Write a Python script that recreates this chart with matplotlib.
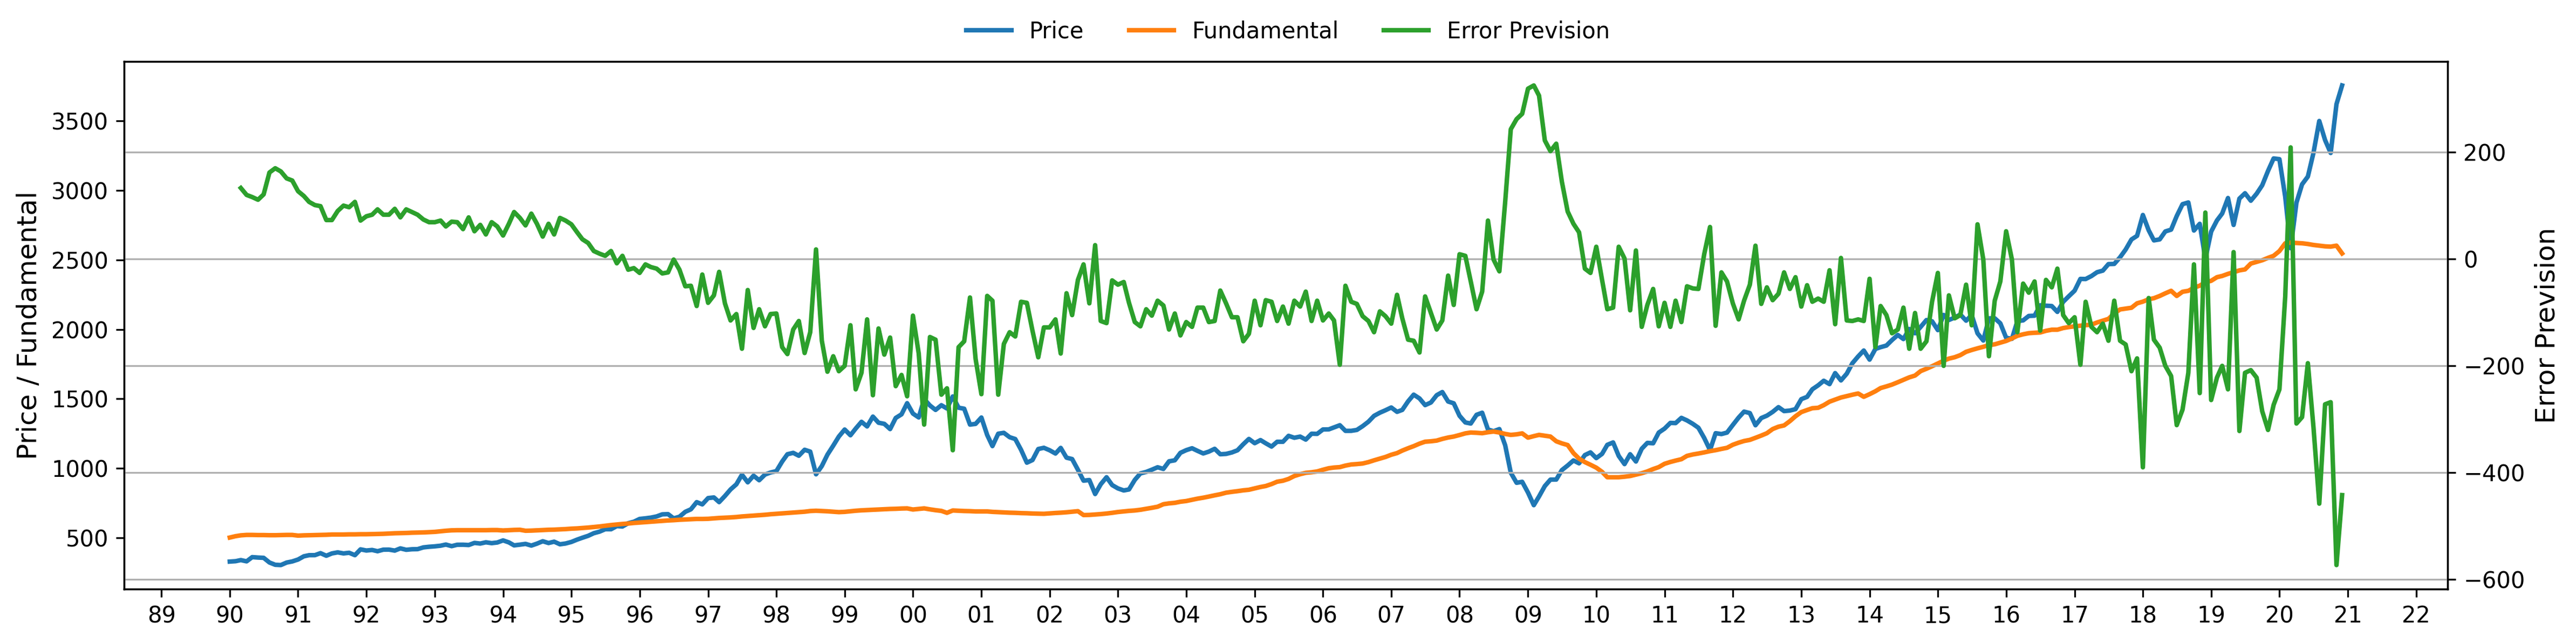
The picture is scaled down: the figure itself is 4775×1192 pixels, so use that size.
import pandas as pd
import matplotlib
matplotlib.use('Agg')
import matplotlib.pyplot as plt
import matplotlib.dates as mdates
from matplotlib.ticker import MultipleLocator

# Monthly values, 1990-01 .. 2020-12 (one row per year)
price = [
    329.08, 331.89, 339.94, 330.80, 361.23, 358.02, 356.15, 322.56, 306.05, 304.00, 322.22, 330.22,
    343.93, 367.07, 375.22, 375.35, 389.83, 371.16, 387.81, 395.43, 387.86, 392.46, 375.22, 417.09,
    408.79, 412.70, 403.69, 414.95, 415.35, 408.14, 424.21, 414.03, 417.80, 418.68, 431.35, 435.71,
    438.78, 443.38, 451.67, 440.19, 450.19, 450.53, 448.13, 463.56, 458.93, 467.83, 461.79, 466.45,
    481.61, 467.14, 445.77, 450.91, 456.50, 444.27, 458.26, 475.49, 462.69, 472.35, 453.69, 459.27,
    470.42, 487.39, 500.71, 514.71, 533.40, 544.75, 562.06, 561.88, 584.41, 581.50, 605.37, 615.93,
    636.02, 640.43, 645.50, 654.17, 669.12, 670.63, 639.95, 651.99, 687.33, 705.27, 757.02, 740.74,
    786.16, 790.82, 757.12, 801.34, 848.28, 885.14, 954.31, 899.47, 947.28, 914.62, 955.40, 970.43,
    980.28, 1049.34, 1101.75, 1111.75, 1090.82, 1133.84, 1120.67, 957.28, 1017.01, 1098.67, 1163.63, 1229.23,
    1279.64, 1238.33, 1286.37, 1335.18, 1301.84, 1372.71, 1328.72, 1320.41, 1282.71, 1362.93, 1388.91, 1469.25,
    1394.46, 1366.42, 1498.58, 1452.43, 1420.60, 1454.60, 1430.83, 1517.68, 1436.51, 1429.40, 1314.95, 1320.28,
    1366.01, 1239.94, 1160.33, 1249.46, 1255.82, 1224.42, 1211.23, 1133.58, 1040.94, 1059.78, 1139.45, 1148.08,
    1130.20, 1106.73, 1147.39, 1076.92, 1067.14, 989.82, 911.62, 916.07, 815.28, 885.76, 936.31, 879.82,
    855.70, 841.15, 848.18, 916.92, 963.59, 974.50, 990.31, 1008.01, 995.97, 1050.71, 1058.20, 1111.92,
    1131.13, 1144.94, 1126.21, 1107.30, 1120.68, 1140.84, 1101.72, 1104.24, 1114.58, 1130.20, 1173.82, 1211.92,
    1181.27, 1203.60, 1180.59, 1156.85, 1191.50, 1191.33, 1234.18, 1220.33, 1228.81, 1207.01, 1249.48, 1248.29,
    1280.08, 1280.66, 1294.87, 1310.61, 1270.09, 1270.20, 1276.66, 1303.82, 1335.85, 1377.94, 1400.63, 1418.30,
    1438.24, 1406.82, 1420.86, 1482.37, 1530.62, 1503.35, 1455.27, 1473.99, 1526.75, 1549.38, 1481.14, 1468.36,
    1378.55, 1330.63, 1322.70, 1385.59, 1400.38, 1280.00, 1267.38, 1282.83, 1166.36, 968.75, 896.24, 903.25,
    825.88, 735.09, 797.87, 872.81, 919.14, 919.32, 987.48, 1020.62, 1057.08, 1036.19, 1095.63, 1115.10,
    1073.87, 1104.49, 1169.43, 1186.69, 1089.41, 1030.71, 1101.60, 1049.33, 1141.20, 1183.26, 1180.55, 1257.64,
    1286.12, 1327.22, 1325.83, 1363.61, 1345.20, 1320.64, 1292.28, 1218.89, 1131.42, 1253.30, 1246.96, 1257.60,
    1312.41, 1365.68, 1408.47, 1397.91, 1310.33, 1362.16, 1379.32, 1406.58, 1440.67, 1412.16, 1416.18, 1426.19,
    1498.11, 1514.68, 1569.19, 1597.57, 1630.74, 1606.28, 1685.73, 1632.97, 1681.55, 1756.54, 1805.81, 1848.36,
    1782.59, 1859.45, 1872.34, 1883.95, 1923.57, 1960.23, 1930.67, 2003.37, 1972.29, 2018.05, 2067.56, 2058.90,
    1994.99, 2104.50, 2067.89, 2085.51, 2107.39, 2063.11, 2103.84, 1972.18, 1920.03, 2079.36, 2080.41, 2043.94,
    1940.24, 1932.23, 2059.74, 2065.30, 2096.95, 2098.86, 2173.60, 2170.95, 2168.27, 2126.15, 2198.81, 2238.83,
    2278.87, 2363.64, 2362.72, 2384.20, 2411.80, 2423.41, 2470.30, 2471.65, 2519.36, 2575.26, 2647.58, 2673.61,
    2823.81, 2713.83, 2640.87, 2648.05, 2705.27, 2718.37, 2816.29, 2901.52, 2913.98, 2711.74, 2760.17, 2506.85,
    2704.10, 2784.49, 2834.40, 2945.83, 2752.06, 2941.76, 2980.38, 2926.46, 2976.74, 3037.56, 3140.98, 3230.78,
    3225.52, 2954.22, 2584.59, 2912.43, 3044.31, 3100.29, 3271.12, 3500.31, 3363.00, 3269.96, 3621.63, 3756.07,
]

fundamental = [
    502, 512, 518, 521, 521, 520, 520, 519, 519, 520, 521, 521,
    516, 518, 519, 520, 521, 522, 524, 524, 524, 525, 525, 526,
    526, 527, 528, 529, 531, 533, 534, 535, 537, 538, 539, 541,
    543, 547, 551, 554, 555, 555, 555, 555, 555, 555, 556, 556,
    553, 555, 557, 558, 551, 552, 554, 556, 558, 559, 561, 563,
    566, 568, 571, 574, 578, 582, 587, 592, 596, 600, 603, 607,
    610, 613, 616, 619, 622, 625, 627, 630, 632, 634, 636, 636,
    637, 640, 643, 645, 647, 650, 654, 657, 660, 663, 666, 670,
    673, 676, 679, 682, 685, 688, 693, 695, 693, 691, 688, 685,
    687, 691, 695, 698, 700, 702, 704, 706, 708, 709, 711, 712,
    704, 708, 712, 705, 699, 694, 680, 697, 695, 693, 692, 690,
    690, 690, 687, 685, 683, 681, 680, 678, 677, 675, 674, 673,
    676, 679, 681, 684, 688, 692, 664, 665, 668, 671, 675, 680,
    686, 690, 694, 697, 702, 709, 716, 724, 742, 748, 752, 760,
    765, 774, 782, 789, 797, 806, 814, 825, 831, 836, 842, 846,
    856, 866, 873, 887, 904, 911, 924, 945, 958, 968, 972, 978,
    990, 1001, 1006, 1009, 1020, 1028, 1031, 1035, 1045, 1058, 1070, 1082,
    1098, 1110, 1128, 1145, 1160, 1178, 1192, 1195, 1200, 1212, 1222, 1229,
    1240, 1252, 1258, 1256, 1253, 1260, 1265, 1258, 1248, 1241, 1245, 1252,
    1221, 1232, 1241, 1235, 1229, 1195, 1180, 1168, 1110, 1070, 1045, 1026,
    1005, 975, 936, 936, 936, 940, 945, 955, 965, 978, 995, 1009,
    1033, 1046, 1056, 1066, 1090, 1100, 1107, 1115, 1124, 1131, 1140, 1148,
    1170, 1185, 1197, 1205, 1220, 1236, 1253, 1283, 1300, 1309, 1340, 1375,
    1405, 1420, 1433, 1436, 1455, 1480, 1495, 1510, 1520, 1530, 1539, 1515,
    1534, 1555, 1578, 1590, 1603, 1620, 1637, 1655, 1668, 1700, 1717, 1735,
    1755, 1775, 1790, 1800, 1815, 1839, 1852, 1864, 1875, 1887, 1893, 1905,
    1917, 1935, 1954, 1965, 1973, 1976, 1978, 1990, 1998, 1998, 2010, 2017,
    2022, 2027, 2031, 2034, 2050, 2063, 2076, 2115, 2144, 2150, 2156, 2188,
    2200, 2217, 2225, 2241, 2260, 2278, 2241, 2271, 2278, 2300, 2315, 2339,
    2350, 2376, 2385, 2400, 2412, 2425, 2432, 2474, 2486, 2498, 2515, 2530,
    2564, 2620, 2625, 2622, 2620, 2615, 2608, 2603, 2598, 2596, 2603, 2547,
]

# Error Prevision starts in 1990-03
error_prevision = [
    133, 120, 116, 111, 121, 162, 170, 164, 151, 147,
    127, 118, 107, 101, 99, 73, 73, 90, 100, 97, 107, 72,
    80, 83, 93, 83, 83, 94, 78, 93, 88, 83, 74, 69,
    69, 72, 61, 70, 69, 56, 78, 52, 64, 46, 69, 61,
    44, 66, 88, 77, 63, 85, 66, 42, 66, 46, 77, 72,
    65, 50, 37, 30, 15, 10, 6, 15, -8, 6, -20, -17,
    -26, -10, -15, -18, -27, -25, -1, -20, -51, -50, -88, -29,
    -82, -68, -24, -83, -115, -103, -168, -58, -129, -94, -126, -103,
    -102, -165, -178, -132, -116, -176, -137, 18, -153, -211, -182, -210,
    -200, -124, -244, -213, -113, -255, -130, -179, -147, -238, -217, -257,
    -106, -177, -310, -146, -151, -254, -242, -358, -165, -154, -72, -187,
    -253, -69, -78, -254, -159, -137, -145, -80, -82, -134, -184, -128,
    -128, -113, -177, -64, -105, -39, -10, -83, 26, -116, -120, -40,
    -48, -43, -82, -118, -126, -94, -106, -78, -87, -132, -102, -143,
    -118, -127, -91, -91, -118, -116, -59, -83, -109, -109, -154, -140,
    -78, -124, -77, -80, -116, -89, -121, -78, -89, -61, -116, -78,
    -115, -102, -115, -198, -50, -80, -84, -107, -116, -137, -98, -107,
    -121, -67, -111, -151, -153, -175, -70, -101, -132, -115, -31, -86,
    9, 6, -42, -94, -61, 72, -1, -23, 107, 243, 262, 272,
    319, 325, 306, 222, 202, 216, 145, 89, 66, 50, -18, -26,
    23, -39, -94, -91, 23, 1, -96, 16, -127, -86, -56, -126,
    -82, -127, -78, -118, -51, -55, -56, 9, 60, -125, -25, -42,
    -83, -113, -78, -48, 25, -84, -53, -77, -65, -25, -56, -34,
    -89, -49, -80, -74, -80, -21, -122, 2, -115, -116, -113, -116,
    -37, -165, -88, -105, -139, -132, -91, -168, -101, -168, -154, -80,
    -26, -200, -68, -111, -105, -48, -124, 65, -1, -182, -78, -42,
    52, -1, -137, -46, -63, -42, -134, -39, -53, -18, -105, -120,
    -109, -198, -80, -127, -137, -121, -153, -78, -153, -160, -210, -186,
    -390, -73, -151, -166, -200, -219, -311, -282, -213, -10, -251, 87,
    -264, -222, -200, -244, 13, -322, -213, -208, -222, -285, -320, -273,
    -244, -70, 209, -308, -296, -195, -315, -458, -272, -268, -573, -442,
]

dates = pd.date_range('1990-01-01', periods=len(price), freq='MS')
dates_err = dates[len(price) - len(error_prevision):]

fig, ax1 = plt.subplots(figsize=(4775 / 300, 1192 / 300), dpi=300)
fig.subplots_adjust(left=0.0482, right=0.9502, top=0.9044, bottom=0.0839)
ax2 = ax1.twinx()

ax1.plot(dates, price, color='C0', lw=2, label='Price')
ax1.plot(dates, fundamental, color='C1', lw=2, label='Fundamental')
ax2.plot(dates_err, error_prevision, color='C2', lw=2, label='Error Prevision')

ax1.set_ylabel('Price / Fundamental', fontsize=12)
ax2.set_ylabel('Error Prevision', fontsize=12)
ax1.yaxis.set_major_locator(MultipleLocator(500))
ax2.yaxis.set_major_locator(MultipleLocator(200))
ax2.grid(axis='y')

ax1.xaxis.set_major_locator(mdates.YearLocator())
ax1.xaxis.set_major_formatter(mdates.DateFormatter('%y'))

fig.legend(loc='upper center', ncol=3, frameon=False)

fig.savefig('out.png', dpi=300)
